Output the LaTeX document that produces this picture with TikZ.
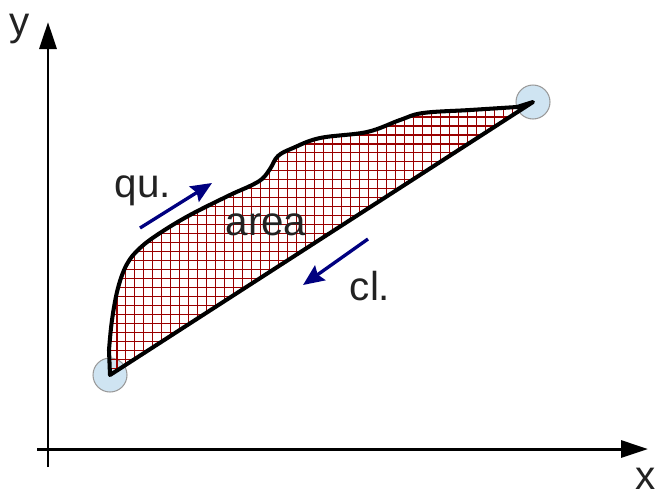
\documentclass[tikz,border=0pt]{standalone}
\usepackage{fontspec}
\setmainfont{Liberation Sans}
\usetikzlibrary{arrows.meta}
\definecolor{arink}   {HTML}{000000}
\definecolor{arnavy}  {HTML}{000080}
\definecolor{arhatch} {HTML}{990000}
\definecolor{arbubble}{HTML}{CFE4F2}
\definecolor{arring}  {HTML}{9A9A9A}
\definecolor{artext}  {HTML}{222222}
\tikzset{
  araxis/.style={draw=arink, line width=1.7pt,
                 -{Triangle[length=0.54cm, width=0.34cm]}},
  arflow/.style={draw=arnavy, line width=1.9pt,
                 -{Stealth[length=0.42cm, width=0.36cm, inset=0.06cm]}},
  arend/.style={circle, draw=arring, fill=arbubble, line width=0.6pt,
                minimum size=0.68cm, inner sep=0pt},
  arlabel/.style={font=\fontsize{23}{27}\selectfont, text=artext,
                  inner sep=0pt, anchor=base},
  aredge/.style={draw=arink, line width=2.3pt, line join=round},
}
\begin{document}
\begin{tikzpicture}[x=0.02cm, y=-0.02cm]
  \useasboundingbox (0,0) rectangle (656,495);
  % axes
  \coordinate (xstart) at (37,449);
  \coordinate (xend)   at (648,449);
  \coordinate (ystart) at (48,467);
  \coordinate (yend)   at (48,22);
  \draw[araxis] (xstart) -- (xend);
  \draw[araxis] (ystart) -- (yend);
  \node[arlabel] (ylab) at (20,35)  {y};
  \node[arlabel] (xlab) at (646,489) {x};
  % end points of the loop
  \node[arend] (low)  at (110,375) {};
  \node[arend] (high) at (533,102) {};
  % hatched area between the two paths
  \begin{scope}
    \clip (low.center) -- plot[smooth, tension=0.6] coordinates {
      (109,350) (112,320) (118,288) (127,264) (140,248) (160,233)
      (190,215) (230,195) (250,186) (262,179) (270,169) (278,156)
      (293,148) (320,138) (367,132) (400,120) (423,113) (470,110)
      (517,107)}
      -- (high.center) -- cycle;
    \draw[arhatch, line width=0.6pt, step=0.18cm] (100,90) grid (545,390);
  \end{scope}
  \draw[aredge] (low.center) -- plot[smooth, tension=0.6] coordinates {
      (109,350) (112,320) (118,288) (127,264) (140,248) (160,233)
      (190,215) (230,195) (250,186) (262,179) (270,169) (278,156)
      (293,148) (320,138) (367,132) (400,120) (423,113) (470,110)
      (517,107)}
      -- (high.center) -- cycle;
  \node[arlabel] (arealab) at (266,235) {area};
  % direction arrows
  \coordinate (qufrom) at (140,228);
  \coordinate (quto)   at (212,183);
  \coordinate (clfrom) at (368,239);
  \coordinate (clto)   at (303,285);
  \draw[arflow] (qufrom) -- (quto);
  \draw[arflow] (clfrom) -- (clto);
  \node[arlabel] (qulab) at (143,197) {qu.};
  \node[arlabel] (cllab) at (370,300) {cl.};
\end{tikzpicture}
\end{document}
